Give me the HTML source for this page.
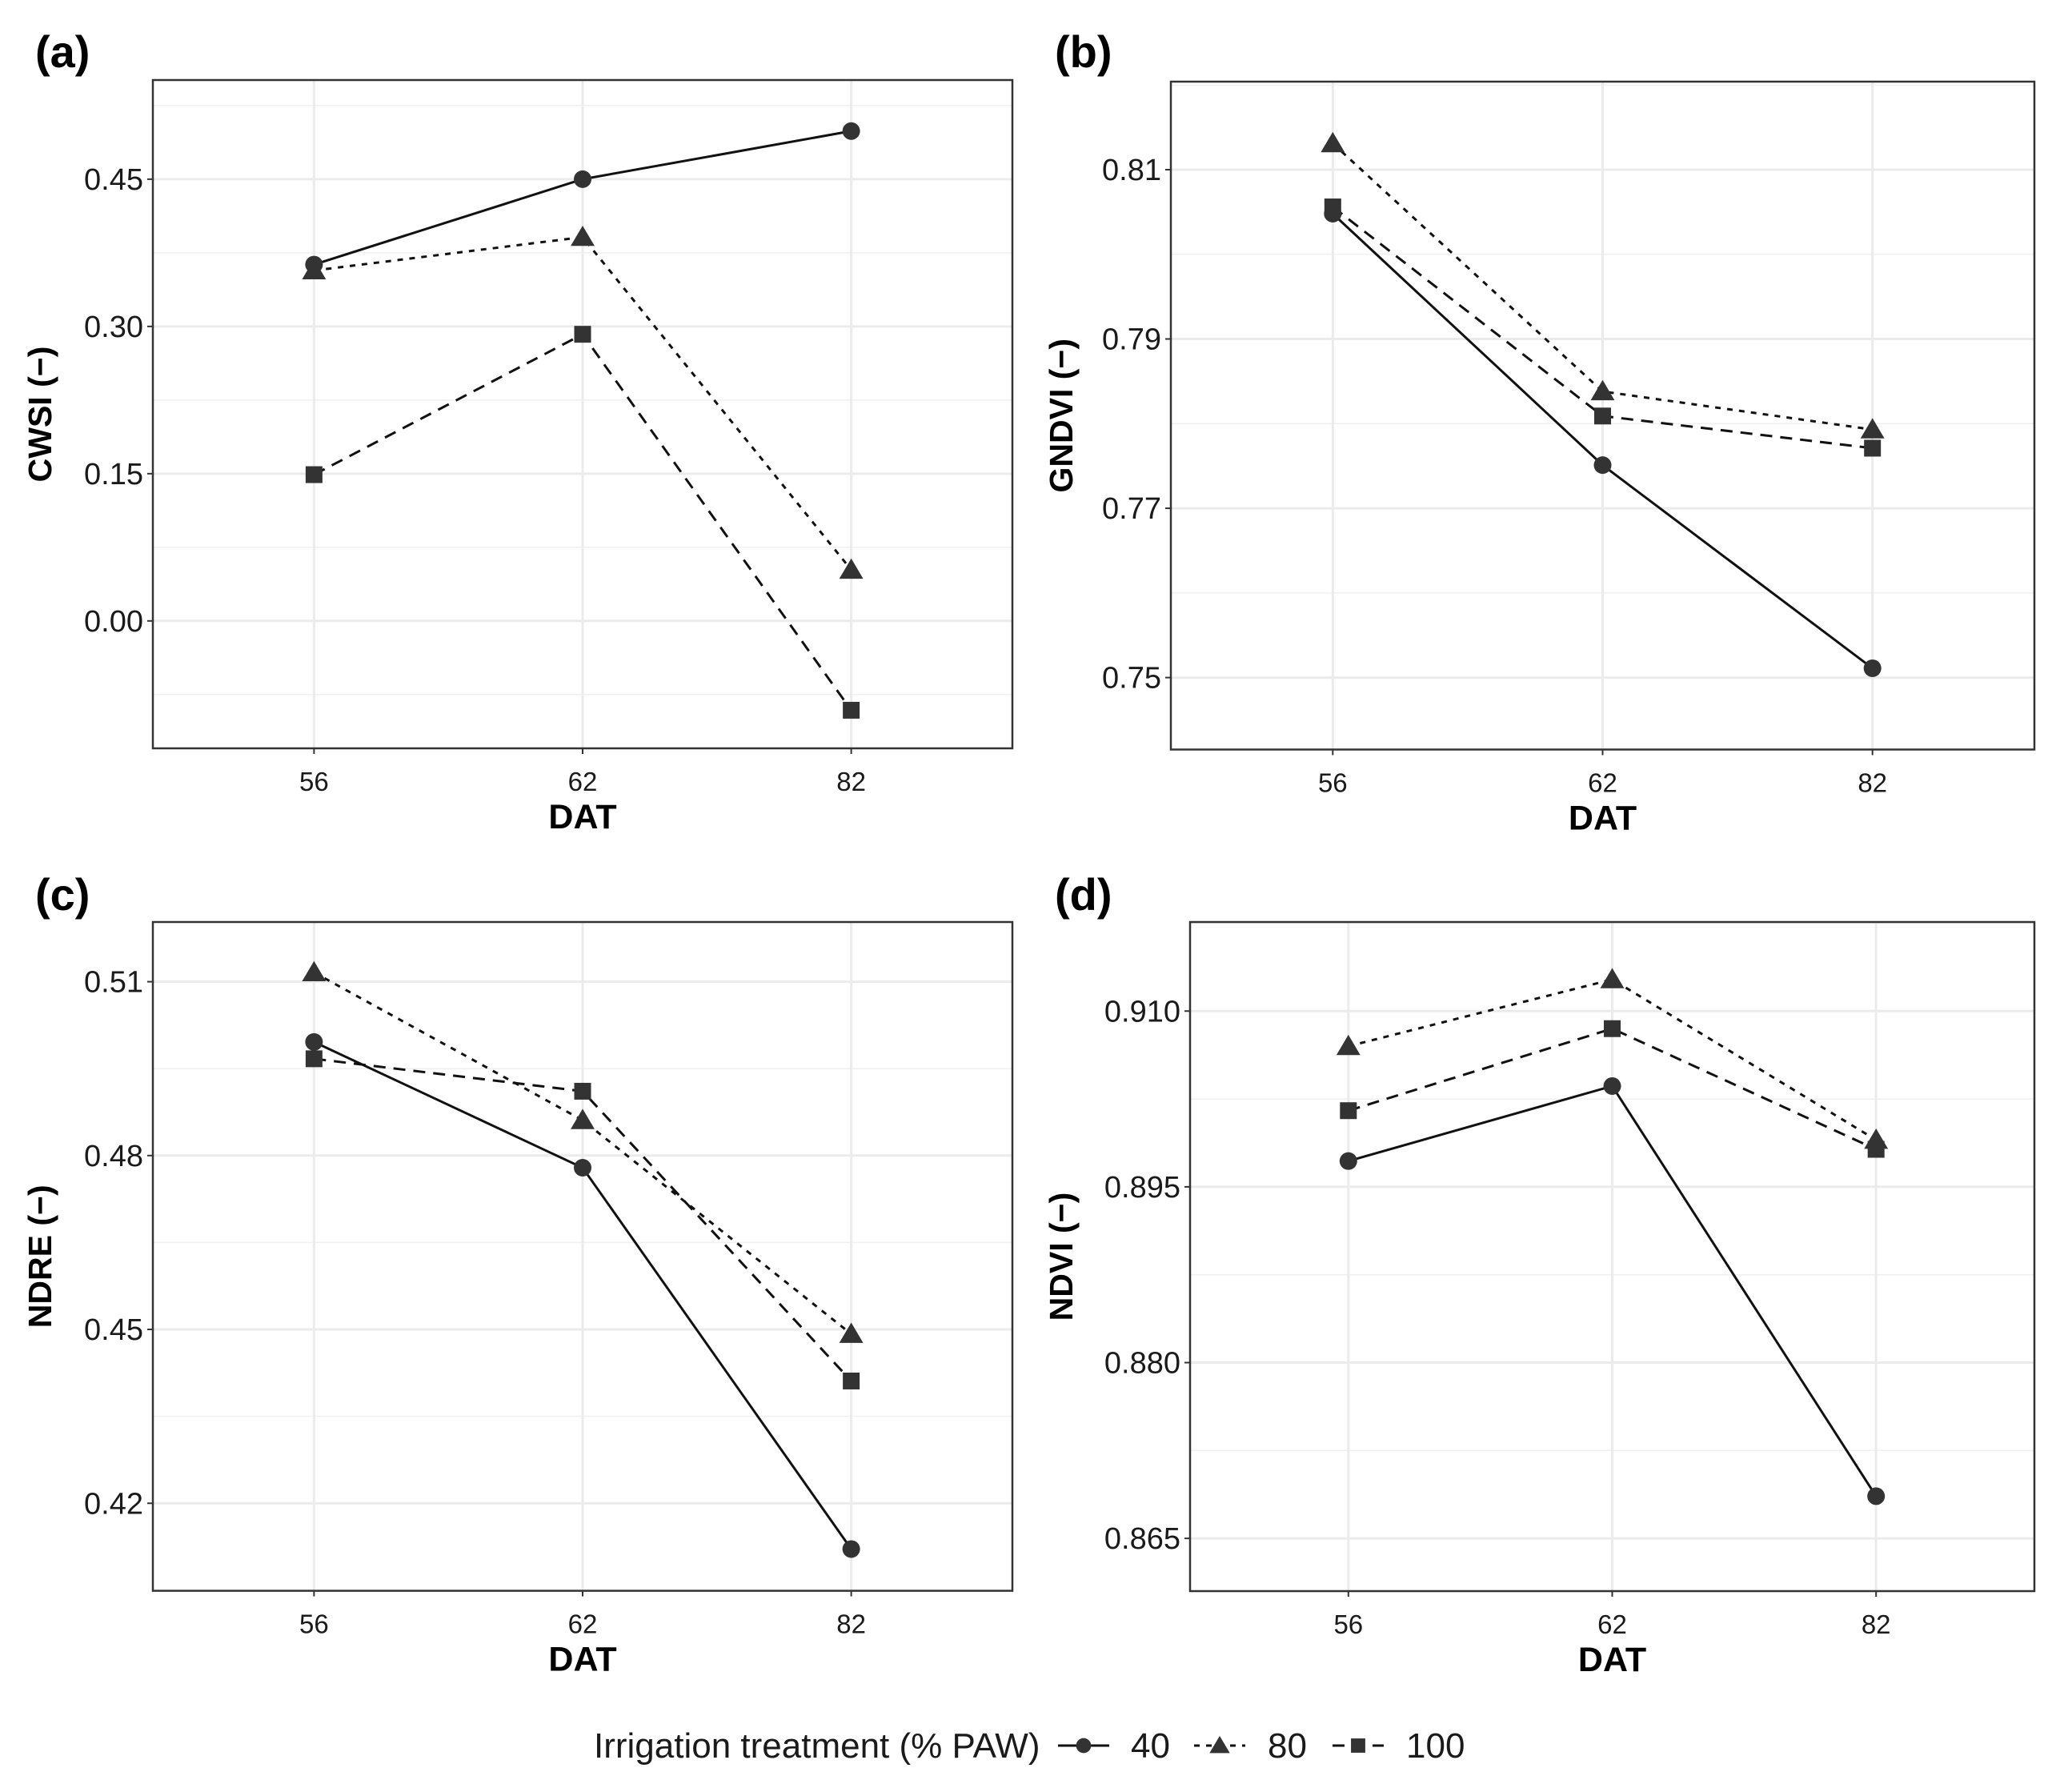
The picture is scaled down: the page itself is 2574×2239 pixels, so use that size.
<!DOCTYPE html>
<html><head><meta charset="utf-8"><style>
body{margin:0;background:#fff}
svg{display:block;font-family:"Liberation Sans",sans-serif}
</style></head><body>
<svg id="fig" width="2574" height="2239" viewBox="0 0 2574 2239"></svg>
<script>
const categories = ["56","62","82"];
const cwsi40 = [0.363, 0.450, 0.499];
const cwsi80 = [0.357, 0.391, 0.052];
const cwsi100 = [0.149, 0.292, -0.091];
const gndvi40 = [0.8048, 0.7751, 0.7511];
const gndvi80 = [0.8131, 0.7838, 0.7793];
const gndvi100 = [0.8056, 0.7809, 0.7771];
const ndre40 = [0.4996, 0.4779, 0.4121];
const ndre80 = [0.5116, 0.4861, 0.4492];
const ndre100 = [0.4967, 0.4911, 0.4411];
const ndvi40 = [0.8972, 0.9036, 0.8686];
const ndvi80 = [0.9070, 0.9127, 0.8990];
const ndvi100 = [0.9015, 0.9085, 0.8982];
const cwsiTicks = ["0.00","0.15","0.30","0.45"];
const gndviTicks = ["0.75","0.77","0.79","0.81"];
const ndreTicks = ["0.42","0.45","0.48","0.51"];
const ndviTicks = ["0.865","0.880","0.895","0.910"];
const legendLabels = ["40","80","100"];

const NS="http://www.w3.org/2000/svg";
const svg=document.getElementById('fig');
function mk(tag,attrs,parent){const e=document.createElementNS(NS,tag);for(const k in attrs)e.setAttribute(k,attrs[k]);(parent||svg).appendChild(e);return e;}
const dashes=["", "7 8", "15 10"];

function marker(g,type,x,y,s){
  let m;
  if(type===0){m=mk('circle',{cx:x,cy:y,r:11*s,fill:'#333'},g);}
  else if(type===1){const h=13*s;m=mk('polygon',{points:`${x},${y-h*1.1} ${x-h*1.15},${y+h*0.85} ${x+h*1.15},${y+h*0.85}`,fill:'#333'},g);}
  else {const h=10.5*s;m=mk('rect',{x:x-h,y:y-h,width:2*h,height:2*h,fill:'#333'},g);}
  return m;
}

function panel(cfg){
  const g=mk('g',{});
  
  
  const L=cfg.l,R=cfg.r,T=cfg.t,B=cfg.b;
  const unit=(R-L)/3.2;
  const xs=i=>L+(0.6+i)*unit;
  const ys=v=>T+(cfg.ymax-v)/(cfg.ymax-cfg.ymin)*(B-T);
  // minor grid
  const tv=cfg.ticks.map(Number);const step=tv[1]-tv[0];
  for(let v=tv[0]-step*1.5;v<=cfg.ymax;v+=step){
    if(v<cfg.ymin)continue;
    const ln=mk('line',{x1:L,x2:R,y1:ys(v),y2:ys(v),stroke:'#f0f0f0','stroke-width':1.5},g);
    
    
  }
  cfg.ticks.forEach(t=>{
    const y=ys(Number(t));
    const ln=mk('line',{x1:L,x2:R,y1:y,y2:y,stroke:'#ebebeb','stroke-width':3},g);
    
    
    mk('line',{x1:L-7,x2:L,y1:y,y2:y,stroke:'#333','stroke-width':2},g);
    const tx=mk('text',{x:L-12,y:y+13,'text-anchor':'end','font-size':38,fill:'#1a1a1a'},g);
    tx.textContent=t;
    
    
  });
  categories.forEach((c,i)=>{
    const x=xs(i);
    const ln=mk('line',{x1:x,x2:x,y1:T,y2:B,stroke:'#ebebeb','stroke-width':3},g);
    
    
    mk('line',{x1:x,x2:x,y1:B,y2:B+7,stroke:'#333','stroke-width':2},g);
    const tx=mk('text',{x:x,y:B+cfg.xlab,'text-anchor':'middle','font-size':33,fill:'#1a1a1a'},g);
    tx.textContent=c;
    
    
  });
  cfg.series.forEach((vals,si)=>{
    const pts=vals.map((v,i)=>xs(i)+','+ys(v)).join(' ');
    const pl=mk('polyline',{points:pts,fill:'none',stroke:'#111','stroke-width':3,'stroke-dasharray':dashes[si]},g);
    
    
  });
  cfg.series.forEach((vals,si)=>{
    vals.forEach((v,i)=>{
      const m=marker(g,si,xs(i),ys(v),1);
      
      
    });
  });
  const br=mk('rect',{x:L,y:T,width:R-L,height:B-T,fill:'none',stroke:'#333','stroke-width':2.5},g);
  
  
  const xt=mk('text',{x:(L+R)/2,y:B+cfg.xtitle,'text-anchor':'middle','font-size':43,'font-weight':'bold'},g);
  xt.textContent='DAT';
  
  
  const cy=(T+B)/2;
  const yt=mk('text',{x:cfg.ytx,y:cy,'text-anchor':'middle','font-size':41,'font-weight':'bold',transform:`rotate(-90 ${cfg.ytx} ${cy})`},g);
  yt.textContent=cfg.ytitle;
  
  
  const pl=mk('text',{x:cfg.lx,y:cfg.ly,'font-size':56,'font-weight':'bold'},g);
  pl.textContent=cfg.label;
  
  
}

panel({name:'panel-a-cwsi',l:191,r:1265,t:100,b:935,ymin:-0.1298,ymax:0.551,ticks:cwsiTicks,series:[cwsi40,cwsi80,cwsi100],ytitle:'CWSI (−)',ytx:64,lx:44,ly:84,label:'(a)',xlab:53,xtitle:100});
panel({name:'panel-b-gndvi',l:1463,r:2542,t:102,b:936.5,ymin:0.7415,ymax:0.8204,ticks:gndviTicks,series:[gndvi40,gndvi80,gndvi100],ytitle:'GNDVI (−)',ytx:1340,lx:1318,ly:84,label:'(b)',xlab:53,xtitle:100});
panel({name:'panel-c-ndre',l:191,r:1265,t:1152,b:1987.6,ymin:0.4049,ymax:0.5203,ticks:ndreTicks,series:[ndre40,ndre80,ndre100],ytitle:'NDRE (−)',ytx:64,lx:44,ly:1137,label:'(c)',xlab:53,xtitle:100});
panel({name:'panel-d-ndvi',l:1487,r:2542,t:1152,b:1988,ymin:0.8605,ymax:0.9176,ticks:ndviTicks,series:[ndvi40,ndvi80,ndvi100],ytitle:'NDVI (−)',ytx:1340,lx:1318,ly:1137,label:'(d)',xlab:53,xtitle:100});

// legend
const lg=mk('g',{});


const lt=mk('text',{x:742,y:2196,'font-size':44,fill:'#1a1a1a'},lg);
lt.textContent='Irrigation treatment (% PAW)';


const keyX=[1322,1492,1665];
const labX=[1413,1584,1757];
legendLabels.forEach((lab,i)=>{
  const ln=mk('line',{x1:keyX[i],x2:keyX[i]+64,y1:2181,y2:2181,stroke:'#111','stroke-width':3,'stroke-dasharray':dashes[i]},lg);
  
  
  const m=marker(lg,i,keyX[i]+32,2181,0.85);
  
  
  const t=mk('text',{x:labX[i],y:2196,'font-size':44,fill:'#1a1a1a'},lg);
  t.textContent=lab;
  
  
});
</script>
</body></html>
